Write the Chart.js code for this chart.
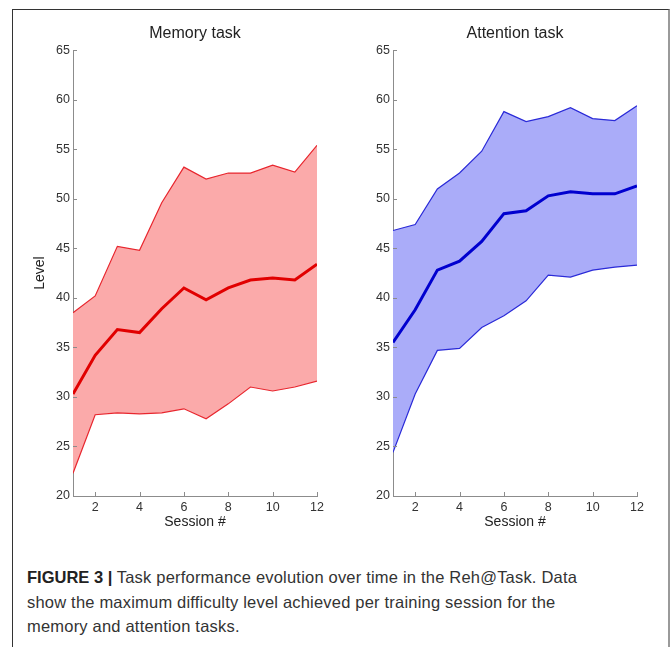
<!DOCTYPE html>
<html>
<head>
<meta charset="utf-8">
<script src="https://cdn.jsdelivr.net/npm/chart.js@4.4.1/dist/chart.umd.min.js"></script>
<style>
  html, body { margin: 0; padding: 0; background: #fff; }
  body { width: 672px; height: 647px; position: relative; overflow: hidden; }
  .frame {
    position: absolute; left: 12px; top: 9px; width: 655px; height: 660px;
    border-left: 1px solid #333; border-top: 1px solid #333; border-right: 2px solid #9a9a9a;
  }
  .box { position: absolute; top: 14px; width: 312px; height: 532px; }
  #memBox { left: 20px; }
  #attBox { left: 340px; }
  .caption {
    position: absolute; left: 27px; top: 565px; width: 640px; white-space: nowrap;
    font-family: "Liberation Sans", Arial, sans-serif; font-size: 16.5px; line-height: 24.5px;
    color: #333; letter-spacing: 0.2px;
  }
  .caption b { color: #222; letter-spacing: 0px; }
</style>
</head>
<body>
<div class="frame"></div>
<div class="box" id="memBox"><canvas id="memChart"></canvas></div>
<div class="box" id="attBox"><canvas id="attChart"></canvas></div>
<div class="caption"><b>FIGURE 3 |</b> Task performance evolution over time in the Reh@Task. Data<br>show the maximum difficulty level achieved per training session for the<br>memory and attention tasks.</div>
<script>
// values
const sessions = [1, 2, 3, 4, 5, 6, 7, 8, 9, 10, 11, 12];
const xTicks = [2, 4, 6, 8, 10, 12];

const memUpper = [38.5, 40.2, 45.2, 44.8, 49.6, 53.2, 52.0, 52.6, 52.6, 53.4, 52.7, 55.4];
const memMean  = [30.3, 34.2, 36.8, 36.5, 38.9, 41.0, 39.8, 41.0, 41.8, 42.0, 41.8, 43.4];
const memLower = [22.3, 28.2, 28.4, 28.3, 28.4, 28.8, 27.8, 29.3, 31.0, 30.6, 31.0, 31.6];

const attUpper = [46.8, 47.4, 51.0, 52.6, 54.8, 58.8, 57.8, 58.3, 59.2, 58.1, 57.9, 59.4];
const attMean  = [35.5, 38.8, 42.8, 43.7, 45.7, 48.5, 48.8, 50.3, 50.7, 50.5, 50.5, 51.3];
const attLower = [24.4, 30.3, 34.7, 34.9, 37.0, 38.2, 39.7, 42.3, 42.1, 42.8, 43.1, 43.3];

const axisColor = '#8c8c8c';
const textColor = '#333';
const fontFamily = '"Liberation Sans", Arial, sans-serif';

const pts = (vals) => sessions.map((s, i) => ({ x: s, y: vals[i] }));

const innerTicks = {
  id: 'innerTicks',
  afterDatasetsDraw(chart) {
    const { ctx, chartArea, scales: { x, y } } = chart;
    ctx.save();
    ctx.strokeStyle = axisColor;
    ctx.lineWidth = 1;
    ctx.beginPath();
    x.ticks.forEach(t => {
      const px = Math.round(x.getPixelForValue(t.value)) + 0.5;
      ctx.moveTo(px, chartArea.bottom);
      ctx.lineTo(px, chartArea.bottom - 4);
    });
    y.ticks.forEach(t => {
      const py = Math.round(y.getPixelForValue(t.value)) + 0.5;
      ctx.moveTo(chartArea.left, py);
      ctx.lineTo(chartArea.left + 4, py);
    });
    ctx.stroke();
    ctx.restore();
  }
};

const makeChart = (id, title, upper, mean, lower, edge, fillColor, meanColor, showYTitle) => {
  return new Chart(id, {
    type: 'line',
    data: {
      datasets: [
        { data: pts(mean), borderColor: meanColor, borderWidth: 3, fill: false },
        { data: pts(upper), borderColor: edge, borderWidth: 1.2, backgroundColor: fillColor, fill: '+1' },
        { data: pts(lower), borderColor: edge, borderWidth: 1.2, fill: false }
      ]
    },
    options: {
      responsive: true,
      maintainAspectRatio: false,
      animation: false,
      layout: { padding: { top: 0, right: 15, bottom: 0, left: 0 } },
      elements: { point: { radius: 0 }, line: { tension: 0 } },
      plugins: {
        legend: { display: false },
        tooltip: { enabled: false },
        filler: { drawTime: 'beforeDatasetsDraw' },
        title: {
          display: true, text: title, color: '#222', fullSize: false,
          font: { family: fontFamily, size: 16, weight: 'normal' },
          padding: { top: 10, bottom: 7 }
        }
      },
      scales: {
        x: {
          type: 'linear', min: 1, max: 12,
          afterFit: s => { s.height = 50; },
          afterBuildTicks: s => { s.ticks = xTicks.map(v => ({ value: v })); },
          grid: { display: false, drawTicks: false },
          border: { display: true, color: axisColor, width: 1 },
          ticks: { color: textColor, padding: 4, font: { family: fontFamily, size: 12.5 } },
          title: { display: true, text: 'Session #', color: '#222', padding: 15,
                   font: { family: fontFamily, size: 14 } }
        },
        y: {
          min: 20, max: 65,
          afterFit: s => { s.width = 53; },
          grid: { display: false, drawTicks: false },
          border: { display: true, color: axisColor, width: 1 },
          ticks: { stepSize: 5, color: textColor, padding: 3, font: { family: fontFamily, size: 12.5 } },
          title: { display: showYTitle, text: 'Level', color: '#222', padding: 12,
                   font: { family: fontFamily, size: 14 } }
        }
      }
    },
    plugins: [innerTicks]
  });
};

makeChart('memChart', 'Memory task', memUpper, memMean, memLower,
  '#e8262e', '#fbaaaa', '#e10000', true);
makeChart('attChart', 'Attention task', attUpper, attMean, attLower,
  '#2a2ad8', '#aaacf9', '#0000cf', false);
</script>
</body>
</html>
